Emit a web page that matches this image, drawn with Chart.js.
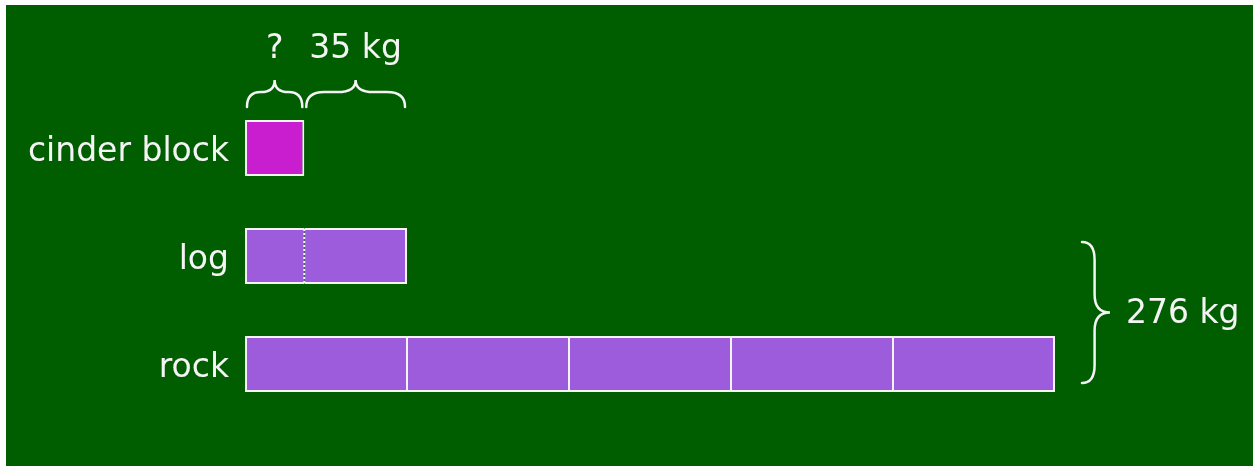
<!DOCTYPE html>
<html>
<head>
<meta charset="utf-8">
<script src="https://cdn.jsdelivr.net/npm/chart.js@4"></script>
<style>
  html, body { margin: 0; padding: 0; background: #fff; }
  #wrap { position: absolute; left: 6px; top: 5px; width: 1247px; height: 461px; background: #005e00; }
</style>
</head>
<body>
<div id="wrap"><canvas id="tape"></canvas></div>
<script>
const categories = ["cinder block", "log", "rock"];
// kg: the unknown piece is about 20 kg
const cinderSegments = [20.2];
const logSegments = [20.2, 35];
const rockSegments = [55.2, 55.2, 55.2, 55.2, 55.2];
const rockTotal = 276;
const topLabels = ["?", "35 kg"];
const sideLabel = "276 kg";

const FONT = "DejaVu Sans, Verdana, sans-serif";
const FONT_SIZE = 33;
const MAGENTA = "#c91dd0";
const PURPLE = "#9d5cdb";
const rows = [cinderSegments, logSegments, rockSegments];
const nSeg = Math.max(...rows.map(r => r.length));

const datasets = [];
for (let i = 0; i < nSeg; i++) {
  datasets.push({
    data: rows.map(r => (i < r.length ? r[i] : null)),
    backgroundColor: [MAGENTA, PURPLE, PURPLE],
    borderColor: "#f4f4f4",
    borderSkipped: false,
    borderWidth: (ctx) => {
      const r = rows[ctx.dataIndex];
      const first = i === 0, last = i === r.length - 1;
      const dotted = ctx.dataIndex === 1; // log divider is drawn dotted by the plugin
      return {
        top: 2, bottom: 2,
        left: first ? 2 : (dotted ? 0 : 1),
        right: last ? 2 : (dotted ? 0 : 1),
      };
    },
    barPercentage: 0.52,
    categoryPercentage: 1,
  });
}

function hBrace(ctx, x1, x2, yEnd, yTip) {
  const mid = (x1 + x2) / 2;
  const yLine = yEnd - (yEnd - yTip) * 0.55;
  const r = Math.min(18, (mid - x1) / 2);
  ctx.beginPath();
  ctx.moveTo(x1, yEnd);
  ctx.quadraticCurveTo(x1, yLine, x1 + r, yLine);
  ctx.lineTo(mid - r, yLine);
  ctx.quadraticCurveTo(mid, yLine, mid, yTip);
  ctx.quadraticCurveTo(mid, yLine, mid + r, yLine);
  ctx.lineTo(x2 - r, yLine);
  ctx.quadraticCurveTo(x2, yLine, x2, yEnd);
  ctx.stroke();
}

function vBrace(ctx, y1, y2, xEnd, xTip) {
  const mid = (y1 + y2) / 2;
  const xLine = xEnd + (xTip - xEnd) * 0.45;
  const r = 18;
  ctx.beginPath();
  ctx.moveTo(xEnd, y1);
  ctx.quadraticCurveTo(xLine, y1, xLine, y1 + r);
  ctx.lineTo(xLine, mid - r);
  ctx.quadraticCurveTo(xLine, mid, xTip, mid);
  ctx.quadraticCurveTo(xLine, mid, xLine, mid + r);
  ctx.lineTo(xLine, y2 - r);
  ctx.quadraticCurveTo(xLine, y2, xEnd, y2);
  ctx.stroke();
}

const annotations = {
  id: "annotations",
  afterDatasetsDraw(chart) {
    const { ctx, scales: { x, y } } = chart;
    const bar = chart.getDatasetMeta(0).data;
    const half = bar[0].height / 2;
    ctx.save();
    ctx.strokeStyle = "#f4f4f4";
    ctx.fillStyle = "#f4f4f4";

    // dotted divider inside the log bar
    const xd = x.getPixelForValue(logSegments[0]);
    const yl = y.getPixelForValue(1);
    ctx.lineWidth = 2;
    ctx.setLineDash([2, 2]);
    ctx.beginPath();
    ctx.moveTo(xd, yl - half + 1);
    ctx.lineTo(xd, yl + half - 1);
    ctx.stroke();
    ctx.setLineDash([]);
    ctx.lineCap = "round";

    // braces over the log pieces
    ctx.lineWidth = 2.5;
    const yTop = y.getPixelForValue(0) - half;
    let start = 0;
    logSegments.forEach((v, i) => {
      const a = x.getPixelForValue(start) + 2;
      const b = x.getPixelForValue(start + v) - 2;
      hBrace(ctx, a, b, yTop - 13, yTop - 40);
      ctx.font = FONT_SIZE + "px " + FONT;
      ctx.textAlign = "center";
      ctx.textBaseline = "middle";
      ctx.fillText(topLabels[i], (a + b) / 2, yTop - 70);
      start += v;
    });

    // brace on the right for the rock total
    const xr = x.getPixelForValue(rockTotal);
    const y1 = y.getPixelForValue(1) - half + 14;
    const y2 = y.getPixelForValue(2) + half - 9;
    vBrace(ctx, y1, y2, xr + 27, xr + 55);
    ctx.font = FONT_SIZE + "px " + FONT;
    ctx.textAlign = "left";
    ctx.textBaseline = "middle";
    ctx.fillText(sideLabel, xr + 71, (y1 + y2) / 2 + 2);
    ctx.restore();
  }
};

new Chart(document.getElementById("tape"), {
  type: "bar",
  data: { labels: categories, datasets: datasets },
  options: {
    indexAxis: "y",
    responsive: true,
    maintainAspectRatio: false,
    animation: false,
    layout: { padding: { top: 89, bottom: 48, left: 0, right: 198 } },
    plugins: { legend: { display: false }, tooltip: { enabled: false } },
    scales: {
      x: {
        stacked: true, min: 0, max: rockTotal,
        display: false,
      },
      y: {
        stacked: true,
        grid: { display: false },
        border: { display: false },
        afterFit: (s) => { s.width = 239; },
        ticks: { color: "#f4f4f4", font: { family: FONT, size: FONT_SIZE }, padding: 8, labelOffset: 4 },
      },
    },
  },
  plugins: [annotations],
});
</script>
</body>
</html>
